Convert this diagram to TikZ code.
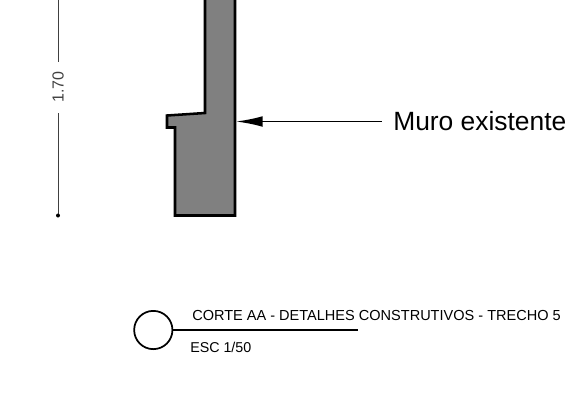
\documentclass[tikz,border=0pt]{standalone}
\usepackage{fontspec}
\setmainfont{Liberation Sans}
\usetikzlibrary{arrows.meta}
\tikzset{
    wallline/.style={draw=black, fill=black!50, line width=1.9pt, line join=miter},
    dimline/.style={draw=black!75, line width=0.6pt},
    titleline/.style={line width=1.3pt},
    titletext/.style={font=\fontsize{10.9}{12}\selectfont, inner sep=0pt},
    esctext/.style={font=\fontsize{10.7}{12}\selectfont, inner sep=0pt},
    calltext/.style={font=\fontsize{19.8}{22}\selectfont, inner sep=0pt},
}
\begin{document}
\begin{tikzpicture}[x=0.75pt, y=-0.75pt]
    \useasboundingbox (0, 0) rectangle (586, 412);

    \coordinate (W1) at (205, -3);
    \coordinate (W2) at (205, 113);
    \coordinate (W3) at (167, 115.5);
    \coordinate (W4) at (167, 127.5);
    \coordinate (W5) at (175, 127.5);
    \coordinate (W6) at (175, 215.5);
    \coordinate (W7) at (235, 215.5);
    \coordinate (W8) at (235, -3);
    \coordinate (T) at (236, 121.5);
    \coordinate (DT) at (58, -3);
    \coordinate (DB) at (58, 215.5);
    \coordinate (LE) at (358, 330);

    \draw[wallline] (W1) -- (W2) -- (W3) -- (W4) -- (W5) -- (W6) -- (W7) -- (W8);

    % cota
    \node[rotate=90, text=black!75, inner sep=0pt, font=\fontsize{12}{14}\selectfont] (D) at (58, 87) {1.70};
    \draw[dimline] (DT) -- (58, 62);
    \draw[dimline] (58, 113) -- (DB);
    \fill (DB) circle[radius=2];

    % chamada
    \node[calltext, anchor=west] (M) at (393, 121.5) {Muro existente};
    \draw[line width=1.2pt, {Latex[length=20pt, width=8pt]}-] (T) -- ([xshift=-8.5pt]M.west);

    % titulo
    \node[draw, circle, titleline, minimum size=28.7pt, inner sep=0pt] (C) at (153.3, 330) {};
    \draw[titleline] (C.east) -- (LE);
    \node[titletext, anchor=west] (A) at (192, 315) {CORTE AA - DETALHES CONSTRUTIVOS - TRECHO 5};
    \node[esctext, anchor=west] (B) at (190, 347) {ESC 1/50};
\end{tikzpicture}
\end{document}
